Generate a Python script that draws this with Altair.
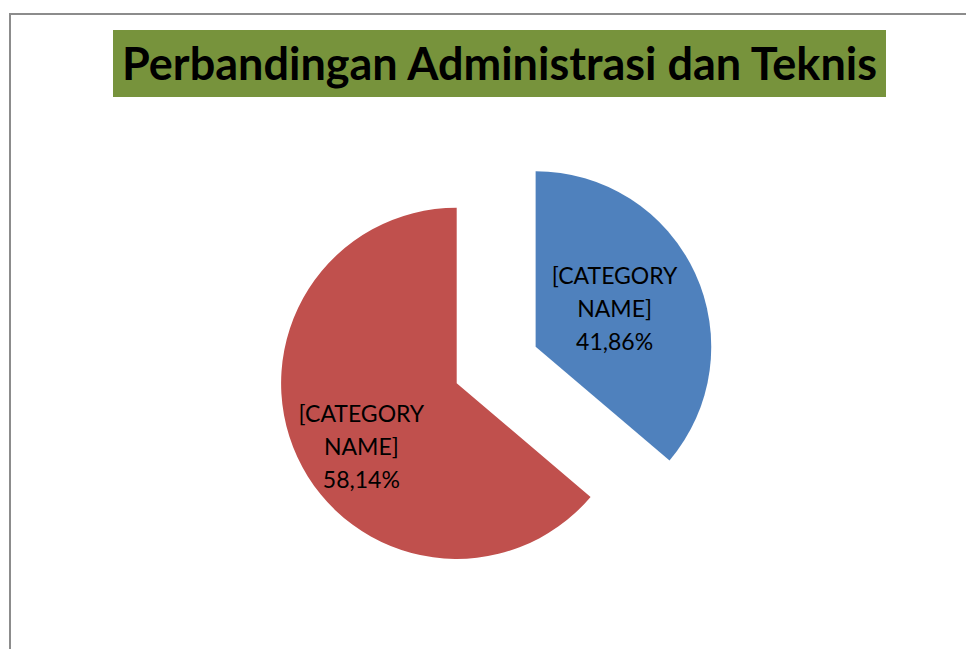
import altair as alt
import pandas as pd

# ---- data ----
series_ids = ["A", "B"]
categories = ["[CATEGORY NAME]", "[CATEGORY NAME]"]
slice_shares = [36.2, 63.8]          # angular share of each slice as drawn
pct_labels = ["41,86%", "58,14%"]    # label text as printed
title_text = "Perbandingan Administrasi dan Teknis"

colors = ["#4F81BD", "#C0504D"]

df = pd.DataFrame({
    "sid": series_ids,
    "category": categories,
    "share": slice_shares,
    "pct": pct_labels,
    "order": list(range(len(series_ids))),
})

W, H = 958, 641
CX, CY = 448.7, 375.3     # pie centre (layout)
R = 175.6                 # pie radius
EXPLODE = 87              # offset of the exploded slice

base = alt.Chart(df).transform_joinaggregate(
    total="sum(share)"
).transform_window(
    cum="sum(share)", sort=[alt.SortField("order")]
).transform_calculate(
    start="(datum.cum - datum.share) / datum.total * 2 * PI",
    end="datum.cum / datum.total * 2 * PI",
).transform_calculate(
    mid="(datum.start + datum.end) / 2",
    ex=f"datum.order == 0 ? {EXPLODE} : 0",
).transform_calculate(
    cx=f"{CX} + datum.ex * sin(datum.mid)",
    cy=f"{CY} - datum.ex * cos(datum.mid)",
    lr="datum.order == 0 ? 87 : 115",
    la="datum.order == 0 ? datum.mid : datum.mid - 0.16",
).transform_calculate(
    lx="datum.cx + datum.lr * sin(datum.la)",
    ly="datum.cy - datum.lr * cos(datum.la)",
    label="replace(datum.category, ' ', '\\n') + '\\n' + datum.pct",
)

arcs = base.mark_arc(radius=R, stroke=None).encode(
    x=alt.X("cx:Q", scale=None, axis=None),
    y=alt.Y("cy:Q", scale=None, axis=None),
    theta=alt.Theta("start:Q", scale=None),
    theta2="end:Q",
    color=alt.Color("sid:N", scale=alt.Scale(domain=series_ids, range=colors), legend=None),
)

labels = base.mark_text(
    font="Lato", fontSize=23, color="#000000", lineBreak="\n", lineHeight=33,
    align="center", baseline="middle", dy=-33,
).encode(
    x=alt.X("lx:Q", scale=None, axis=None),
    y=alt.Y("ly:Q", scale=None, axis=None),
    text="label:N",
)

frame_df = pd.DataFrame({"t": [title_text]})

border = alt.Chart(frame_df).mark_rect(
    fill=None, stroke="#8c8c8c", strokeWidth=2
).encode(
    x=alt.value(2), x2=alt.value(W + 20), y=alt.value(6), y2=alt.value(H + 20)
)

title_box = alt.Chart(frame_df).mark_rect(fill="#77933C").encode(
    x=alt.value(105), x2=alt.value(878), y=alt.value(22), y2=alt.value(89)
)

title = alt.Chart(frame_df).mark_text(
    font="Lato", fontSize=45, fontWeight="bold", color="#000000",
    align="center", baseline="middle",
).encode(
    x=alt.value(491.5), y=alt.value(58), text="t:N"
)

chart = alt.layer(border, title_box, title, arcs, labels).properties(
    width=W, height=H, padding=0, autosize=alt.AutoSizeParams(type="none"),
    background="white",
).configure_view(stroke=None)

chart.save("out.html", embed_options={"renderer": "svg", "actions": False})
